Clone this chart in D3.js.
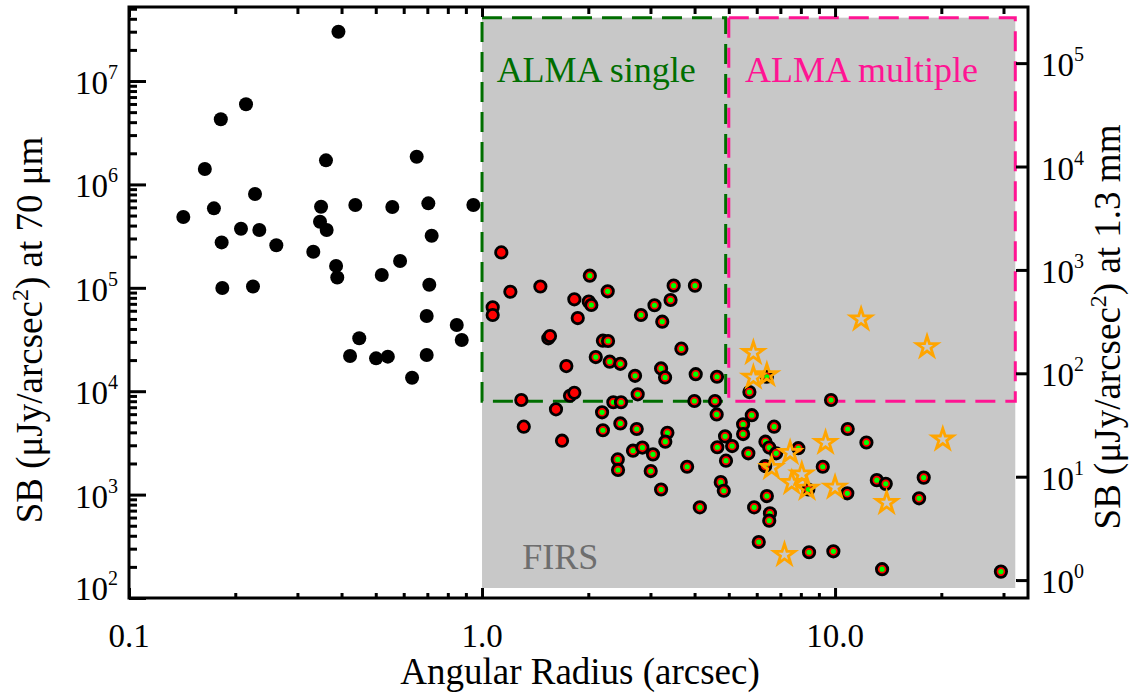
<!DOCTYPE html>
<html>
<head>
<meta charset="utf-8">
<script src="https://cdn.jsdelivr.net/npm/d3@7"></script>
<style>
  body { margin: 0; background: #fff; }
  svg { display: block; font-family: 'Liberation Serif', 'Times New Roman', serif; }
</style>
</head>
<body>
<div id="chart"></div>
<script>
// ---- data (angular radius in arcsec, SB in uJy/arcsec^2 at 70 um) ----
const blackRadius = [0.392, 0.2145, 0.182, 0.164, 0.3614, 0.653, 0.1425, 0.174, 0.2275, 0.35,
  0.4376, 0.557, 0.7045, 0.945, 0.2076, 0.234, 0.183, 0.2614, 0.3327, 0.3476,
  0.363, 0.72, 0.386, 0.389, 0.586, 0.52, 0.1838, 0.2245, 0.709, 0.697,
  0.848, 0.876, 0.449, 0.4228, 0.501, 0.541, 0.697, 0.6336]
const blackSB = [3.0e7, 5.96e6, 4.27e6, 1.41e6, 1.71e6, 1.85e6, 4.84e5, 5.87e5, 8.07e5, 6.08e5,
  6.32e5, 6.04e5, 6.56e5, 6.32e5, 3.73e5, 3.62e5, 2.75e5, 2.58e5, 2.23e5, 4.35e5,
  3.62e5, 3.19e5, 1.63e5, 1.26e5, 1.82e5, 1.33e5, 9.95e4, 1.03e5, 1.07e5, 5.33e4,
  4.37e4, 3.13e4, 3.25e4, 2.19e4, 2.08e4, 2.16e4, 2.24e4, 1.35e4]

const redRadius = [1.134, 1.203, 1.463, 1.072, 1.072, 1.826, 1.867, 1.541, 1.558, 1.733,
  1.292, 1.775, 1.826, 1.62, 1.313, 1.685]
const redSB = [2.2e5, 9.16e4, 1.03e5, 6.47e4, 5.46e4, 7.74e4, 5.1e4, 3.25e4, 3.42e4, 1.75e4,
  8.22e3, 9.04e3, 9.66e3, 6.68e3, 4.54e3, 3.32e3]

const greenRadius = [2.02, 2.27, 2.006, 2.04, 3.49, 4.01, 3.42, 3.08, 2.82, 3.24,
  2.2, 2.275, 3.67, 2.1, 2.3, 2.465, 2.713, 3.215, 3.3, 4.03,
  4.63, 2.76, 2.355, 2.476, 2.188, 3.995, 4.57, 4.62, 2.465, 2.2,
  2.743, 3.35, 3.305, 2.677, 2.846, 3.05, 2.424, 2.428, 3.005, 3.81,
  3.215, 4.14, 4.88, 4.64, 5.11, 4.91, 4.745, 4.84, 5.68, 5.49,
  5.49, 5.81, 6.72, 6.35, 6.51, 6.81, 6.41, 5.9, 6.54, 6.51,
  6.08, 5.72, 6.41, 9.74, 10.86, 12.27, 9.23, 7.87, 10.83, 13.13,
  13.92, 17.83, 17.3, 8.44, 9.89, 13.59, 29.5, 8.4, 6.34]
const greenSB = [1.31e5, 9.25e4, 7.35e4, 6.82e4, 1.05e5, 1.05e5, 7.62e4, 6.78e4, 5.46e4, 4.7e4,
  3.08e4, 3.06e4, 2.58e4, 2.14e4, 1.93e4, 1.84e4, 1.41e4, 1.66e4, 1.36e4, 1.46e4,
  1.38e4, 9.33e3, 7.82e3, 7.82e3, 6.25e3, 8.04e3, 8.04e3, 5.96e3, 4.88e3, 4.19e3,
  4.31e3, 3.96e3, 3.25e3, 2.66e3, 2.85e3, 2.45e3, 2.19e3, 1.73e3, 1.69e3, 1.86e3,
  1.12e3, 753, 3.66e3, 2.87e3, 2.95e3, 2.13e3, 1.32e3, 1.09e3, 2.51e3, 4.79e3,
  3.85e3, 5.86e3, 4.54e3, 3.25e3, 2.85e3, 2.51e3, 968, 753, 659, 559,
  348, 9.82e3, 1.38e4, 8.22e3, 4.31e3, 3.19e3, 1.86e3, 2.81e3, 1.03e3, 1.38e3,
  1.27e3, 1.46e3, 921, 277, 283, 190, 180, 1.12e3, 1.89e3]

const starRadius = [5.87, 5.87, 6.41, 11.85, 18.22, 20.19, 9.4, 7.46, 6.61, 8.05,
  7.54, 8.33, 10.0, 14.0, 7.19]
const starSB = [2.41e4, 1.39e4, 1.47e4, 5.07e4, 2.74e4, 3.5e3, 3.25e3, 2.6e3, 1.86e3, 1.61e3,
  1.33e3, 1.17e3, 1.2e3, 853, 268]

// regions [xmin, xmax, ymin, ymax]
const firsRegion = [1.0, 32.4, 125, 4.1e7]
const singleRegion = [1.0, 4.9, 8.0e3, 4.1e7]
const multipleRegion = [5.0, 32.4, 8.0e3, 4.1e7]

// axes
const xMajor = [0.1, 1, 10]
const xTickLabels = ['0.1', '1.0', '10.0']
const xMinor = [0.2, 0.3, 0.4, 0.5, 0.6, 0.7, 0.8, 0.9, 2, 3, 4, 5, 6, 7, 8, 9, 20, 30]
const yExponents = [2, 3, 4, 5, 6, 7]
const yRightExponents = [0, 1, 2, 3, 4, 5]
const mmFactor = 149 // 70um SB / 1.3mm SB

const xDomain = [0.1, 35.2]
const yDomain = [100, 5.2e7]
// --------------------------------------------

const svgWidth = 1131
const svgHeight = 693
const margin = { top: 7, right: 103, bottom: 95, left: 129 }
const width = svgWidth - margin.left - margin.right
const height = svgHeight - margin.top - margin.bottom

const green = '#006e00'
const pink = '#ff1493'

const x = d3.scaleLog().domain(xDomain).range([0, width])
const y = d3.scaleLog().domain(yDomain).range([height, 0])
const yRight = d3.scaleLog().domain(yDomain.map(d => d / mmFactor)).range([height, 0])

const svg = d3.select('#chart').append('svg').attr('width', svgWidth).attr('height', svgHeight)
const g = svg.append('g').attr('transform', `translate(${margin.left},${margin.top})`)

const regionRect = (sel, [x0, x1, y0, y1]) =>
  sel.attr('x', x(x0)).attr('y', y(y1)).attr('width', x(x1) - x(x0)).attr('height', y(y0) - y(y1))

g.append('rect').call(regionRect, firsRegion).attr('fill', '#c8c8c8')

g.append('rect').call(regionRect, singleRegion)
  .attr('fill', 'none').attr('stroke', green).attr('stroke-width', 3).attr('stroke-dasharray', '20,10')
g.append('rect').call(regionRect, multipleRegion)
  .attr('fill', 'none').attr('stroke', pink).attr('stroke-width', 3).attr('stroke-dasharray', '20,10')

g.append('text').attr('x', x(1.10)).attr('y', 75).attr('font-size', 36).attr('fill', green).text('ALMA single')
g.append('text').attr('x', x(5.56)).attr('y', 75).attr('font-size', 36).attr('fill', pink).text('ALMA multiple')
g.append('text').attr('x', x(1.30)).attr('y', 562).attr('font-size', 36).attr('fill', '#6e6e6e').text('FIRS')

const pairs = (xs, ys) => xs.map((v, i) => [v, ys[i]])

g.append('g').selectAll('circle').data(pairs(blackRadius, blackSB)).join('circle')
  .attr('cx', d => x(d[0])).attr('cy', d => y(d[1])).attr('r', 7).attr('fill', '#000')

g.append('g').selectAll('circle').data(pairs(redRadius, redSB)).join('circle')
  .attr('cx', d => x(d[0])).attr('cy', d => y(d[1])).attr('r', 5.7)
  .attr('fill', '#ff0000').attr('stroke', '#000').attr('stroke-width', 2.8)

const greenPts = g.append('g').selectAll('g').data(pairs(greenRadius, greenSB)).join('g')
  .attr('transform', d => `translate(${x(d[0])},${y(d[1])})`)
greenPts.append('circle').attr('r', 5.7).attr('fill', '#ff0000').attr('stroke', '#000').attr('stroke-width', 2.8)
greenPts.append('circle').attr('r', 2.6).attr('fill', '#00ff00')

const star = d3.symbol(d3.symbolStar).size(132)
g.append('g').selectAll('path').data(pairs(starRadius, starSB)).join('path')
  .attr('transform', d => `translate(${x(d[0])},${y(d[1]) + 1})`)
  .attr('d', star).attr('fill', 'none').attr('stroke', '#ffa500').attr('stroke-width', 2.8)
  .attr('stroke-linejoin', 'miter')

// axes
const styleAxis = sel => {
  sel.select('.domain').remove()
  sel.selectAll('line').attr('stroke', '#000').attr('stroke-width', 3)
  sel.selectAll('text').remove()
}
const minorY = yExponents.flatMap(e => d3.range(2, 10).map(m => m * 10 ** e)).filter(v => v < yDomain[1])
const majorY = yExponents.map(e => 10 ** e)
const majorYRight = yRightExponents.map(e => 10 ** e)

g.append('g').attr('transform', `translate(0,${height})`)
  .call(d3.axisBottom(x).tickValues(xMajor).tickSizeInner(-10).tickSizeOuter(0)).call(styleAxis)
g.append('g').attr('transform', `translate(0,${height})`)
  .call(d3.axisBottom(x).tickValues(xMinor).tickSizeInner(-5).tickSizeOuter(0)).call(styleAxis)
g.append('g')
  .call(d3.axisTop(x).tickValues(xMajor).tickSizeInner(-10).tickSizeOuter(0)).call(styleAxis)
g.append('g')
  .call(d3.axisTop(x).tickValues(xMinor).tickSizeInner(-7).tickSizeOuter(0)).call(styleAxis)
g.append('g')
  .call(d3.axisLeft(y).tickValues(majorY).tickSizeInner(-17).tickSizeOuter(0)).call(styleAxis)
g.append('g')
  .call(d3.axisLeft(y).tickValues(minorY).tickSizeInner(-8).tickSizeOuter(0)).call(styleAxis)
g.append('g').attr('transform', `translate(${width},0)`)
  .call(d3.axisRight(yRight).tickValues(majorYRight).tickSizeInner(-12).tickSizeOuter(0)).call(styleAxis)

g.append('rect').attr('width', width).attr('height', height)
  .attr('fill', 'none').attr('stroke', '#000').attr('stroke-width', 3)

// tick labels
g.append('g').selectAll('text').data(xMajor).join('text')
  .attr('x', d => x(d)).attr('y', height + 49).attr('text-anchor', 'middle').attr('font-size', 33)
  .text((d, i) => xTickLabels[i])

const powerLabel = (sel, exp) => {
  sel.append('tspan').text('10')
  sel.append('tspan').attr('dy', -15).attr('font-size', 20).text(exp)
}

g.append('g').selectAll('text').data(yExponents).join('text')
  .attr('x', -11).attr('y', e => Math.min(y(10 ** e) + 13, height + 2))
  .attr('text-anchor', 'end').attr('font-size', 33)
  .each(function (e) { powerLabel(d3.select(this), e) })

g.append('g').selectAll('text').data(yRightExponents).join('text')
  .attr('x', width + 13).attr('y', e => yRight(10 ** e) + 13).attr('font-size', 33)
  .each(function (e) { powerLabel(d3.select(this), e) })

// axis titles
g.append('text').attr('x', 451).attr('y', height + 86).attr('text-anchor', 'middle')
  .attr('font-size', 37).text('Angular Radius (arcsec)')

const sbTitle = (sel, band) => {
  sel.append('tspan').text('SB (μJy/arcsec')
  sel.append('tspan').attr('dy', -14).attr('font-size', 24).text('2')
  sel.append('tspan').attr('dy', 14).text(`) at ${band}`)
}

g.append('text').attr('transform', `translate(-87,${323}) rotate(-90)`)
  .attr('text-anchor', 'middle').attr('font-size', 37).call(sbTitle, '70 μm')
g.append('text').attr('transform', `translate(${width + 92},${320}) rotate(-90)`)
  .attr('text-anchor', 'middle').attr('font-size', 37).call(sbTitle, '1.3 mm')
</script>
</body>
</html>
